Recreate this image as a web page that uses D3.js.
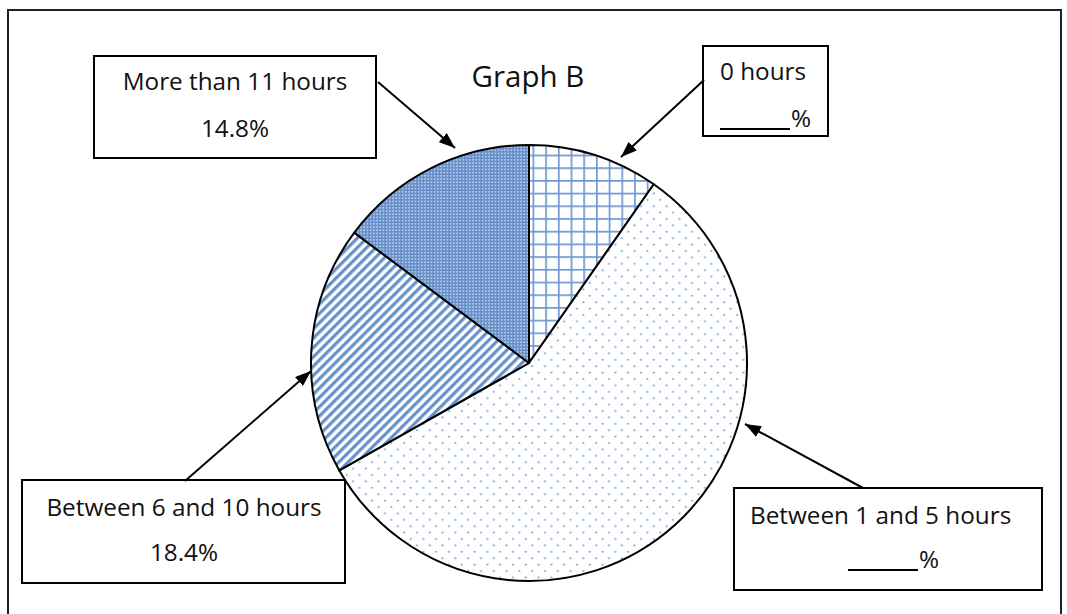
<!DOCTYPE html>
<html>
<head>
<meta charset="utf-8">
<script src="https://cdn.jsdelivr.net/npm/d3@7"></script>
<style>
  body { margin: 0; background: #fff; }
  text { font-family: "Open Sans", Lato, sans-serif; fill: #111; }
</style>
</head>
<body>
<svg id="chart" width="1067" height="614"></svg>
<script>
// Data (slices go clockwise from 12 o'clock)
const categories = ["0 hours", "Between 1 and 5 hours", "Between 6 and 10 hours", "More than 11 hours"];
const percents = [9.7, 57.1, 18.4, 14.8];
const answerShown = [false, false, true, true]; // the worksheet leaves two blanks
const fillPatterns = ["grid", "dots", "stripes", "dense"];
const title = "Graph B";

const width = 1067;
const height = 614;
const cx = 529, cy = 363, radius = 218;
const labelSize = "24.3px";

const svg = d3.select("#chart");
const defs = svg.append("defs");

// Fill patterns like the Office ones
const grid = defs.append("pattern").attr("id", "grid")
    .attr("patternUnits", "userSpaceOnUse").attr("width", 12.7).attr("height", 12.7)
    .attr("x", 3.5).attr("y", 7.5);
grid.append("rect").attr("width", 12.7).attr("height", 12.7).attr("fill", "#fff");
grid.append("path").attr("d", "M0,0V12.7M0,0H12.7").attr("stroke", "#6f98d0").attr("stroke-width", 3.4);

const dots = defs.append("pattern").attr("id", "dots")
    .attr("patternUnits", "userSpaceOnUse").attr("width", 12.8).attr("height", 12.8);
dots.append("rect").attr("width", 12.8).attr("height", 12.8).attr("fill", "#fff");
dots.append("circle").attr("cx", 3.2).attr("cy", 3.2).attr("r", 1.1).attr("fill", "#79a1d8");
dots.append("circle").attr("cx", 9.6).attr("cy", 9.6).attr("r", 1.1).attr("fill", "#79a1d8");

const stripes = defs.append("pattern").attr("id", "stripes")
    .attr("patternUnits", "userSpaceOnUse").attr("width", 6.6).attr("height", 20)
    .attr("patternTransform", "rotate(45)");
stripes.append("rect").attr("width", 6.6).attr("height", 20).attr("fill", "#fff");
stripes.append("rect").attr("width", 3.2).attr("height", 20).attr("fill", "#6690ca");

const dense = defs.append("pattern").attr("id", "dense")
    .attr("patternUnits", "userSpaceOnUse").attr("width", 3.2).attr("height", 3.2);
dense.append("rect").attr("width", 3.2).attr("height", 3.2).attr("fill", "#6891cc");
dense.append("rect").attr("x", 1).attr("y", 1).attr("width", 1.2).attr("height", 1.2).attr("fill", "#f2f6fc");

defs.append("marker").attr("id", "head")
    .attr("markerUnits", "userSpaceOnUse")
    .attr("viewBox", "0 -6 16 12").attr("refX", 16).attr("refY", 0)
    .attr("markerWidth", 16).attr("markerHeight", 12).attr("orient", "auto")
  .append("path").attr("d", "M0,-6L16,0L0,6Z").attr("fill", "#000");

// Outer frame
svg.append("rect")
    .attr("x", 8).attr("y", 10).attr("width", 1053).attr("height", 610)
    .attr("fill", "none").attr("stroke", "#222").attr("stroke-width", 2);

svg.append("text")
    .attr("x", 528).attr("y", 87)
    .attr("text-anchor", "middle")
    .style("font-size", "29.5px")
    .text(title);

// Pie
const pie = d3.pie().sort(null).value(d => d)(percents);
const arc = d3.arc().innerRadius(0).outerRadius(radius);

svg.append("g").attr("transform", `translate(${cx},${cy})`)
  .selectAll("path")
  .data(pie)
  .join("path")
    .attr("d", arc)
    .attr("fill", (d, i) => `url(#${fillPatterns[i]})`)
    .attr("stroke", "#000")
    .attr("stroke-width", 2)
    .attr("stroke-linejoin", "round");

// Callout boxes: box rect, label lines and the arrow from the box to the pie
const callouts = [
  { box: [703, 46, 125, 90], align: "start", tx: 720, ty: [80, 127], blankX: [720, 790],
    from: [704, 80], to: [621, 157] },
  { box: [734, 488, 308, 102], align: "start", tx: 750, ty: [524, 568], blankX: [848, 918],
    from: [863, 488], to: [745, 424] },
  { box: [22, 480, 323, 103], align: "middle", tx: 184, ty: [516, 561],
    from: [185, 481], to: [311, 371] },
  { box: [94, 56, 282, 102], align: "middle", tx: 235, ty: [90, 137],
    from: [378, 82], to: [455, 148] }
];

callouts.forEach((c, i) => {
  const g = svg.append("g");
  g.append("rect")
      .attr("x", c.box[0]).attr("y", c.box[1])
      .attr("width", c.box[2]).attr("height", c.box[3])
      .attr("fill", "#fff").attr("stroke", "#000").attr("stroke-width", 2);
  g.append("text")
      .attr("x", c.tx).attr("y", c.ty[0])
      .attr("text-anchor", c.align)
      .style("font-size", labelSize)
      .text(categories[i]);
  if (answerShown[i]) {
    g.append("text")
        .attr("x", c.tx).attr("y", c.ty[1])
        .attr("text-anchor", "middle")
        .style("font-size", labelSize)
        .text(d3.format(".1f")(percents[i]) + "%");
  } else {
    g.append("line")
        .attr("x1", c.blankX[0]).attr("x2", c.blankX[1])
        .attr("y1", c.ty[1] + 2).attr("y2", c.ty[1] + 2)
        .attr("stroke", "#000").attr("stroke-width", 2);
    g.append("text")
        .attr("x", c.blankX[1] + 1).attr("y", c.ty[1])
        .style("font-size", labelSize)
        .text("%");
  }
  svg.append("line")
      .attr("x1", c.from[0]).attr("y1", c.from[1])
      .attr("x2", c.to[0]).attr("y2", c.to[1])
      .attr("stroke", "#000").attr("stroke-width", 2)
      .attr("marker-end", "url(#head)");
});
</script>
</body>
</html>
